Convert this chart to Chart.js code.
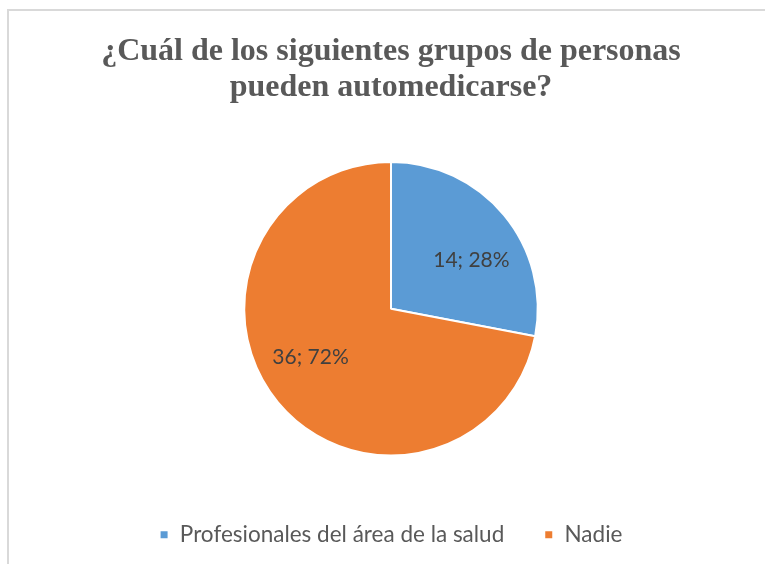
<!DOCTYPE html>
<html>
<head>
<meta charset="utf-8">
<script src="https://cdn.jsdelivr.net/npm/chart.js@4/dist/chart.umd.min.js"></script>
<style>
  html, body { margin: 0; padding: 0; background: #fff; }
  #wrap { position: relative; width: 765px; height: 564px; overflow: hidden; }
  #frame { position: absolute; left: 7px; top: 9px; width: 900px; height: 700px; border: 2px solid #d9d9d9; }
  #pieChart { position: absolute; left: 0; top: 0; }
</style>
</head>
<body>
<div id="wrap">
  <div id="frame"></div>
  <canvas id="pieChart" width="765" height="564"></canvas>
</div>
<script>
const titleLines = ['¿Cuál de los siguientes grupos de personas', 'pueden automedicarse?'];
const categories = ['Profesionales del área de la salud', 'Nadie'];
const counts = [14, 36];
const colors = ['#5B9BD5', '#ED7D31'];

// labels like "14; 28%" drawn inside the slices
const sliceLabels = {
    id: 'sliceLabels',
    afterDatasetsDraw(chart) {
        const ctx = chart.ctx;
        const data = chart.data.datasets[0].data;
        const total = data.reduce((a, b) => a + b, 0);
        const shift = 8.5 * Math.PI / 180;
        ctx.save();
        ctx.font = '21px Lato';
        ctx.fillStyle = '#404040';
        ctx.textAlign = 'center';
        ctx.textBaseline = 'middle';
        chart.getDatasetMeta(0).data.forEach((arc, i) => {
            const p = arc.getProps(['x', 'y', 'startAngle', 'endAngle', 'outerRadius'], true);
            const mid = (p.startAngle + p.endAngle) / 2 + shift;
            const r = p.outerRadius * 0.64;
            const pct = Math.round(data[i] / total * 100);
            ctx.fillText(data[i] + '; ' + pct + '%', p.x + Math.cos(mid) * r, p.y + Math.sin(mid) * r);
        });
        ctx.restore();
    }
};

new Chart(document.getElementById('pieChart').getContext('2d'), {
    type: 'pie',
    data: {
        labels: categories,
        datasets: [{
            data: counts,
            backgroundColor: colors,
            borderColor: '#ffffff',
            borderWidth: 2
        }]
    },
    options: {
        responsive: false,
        animation: false,
        layout: { padding: { left: 17, right: 0, top: 0, bottom: 8 } },
        plugins: {
            title: {
                display: true,
                text: titleLines,
                color: '#595959',
                font: { family: 'Liberation Serif', size: 32, weight: 'bold', lineHeight: 1.125 },
                padding: { top: 34, bottom: 55 }
            },
            legend: {
                position: 'bottom',
                // empty title only used as spacer above the items
                title: { display: true, text: '', padding: 0, font: { size: 10, lineHeight: 2.7 } },
                labels: {
                    color: '#595959',
                    font: { family: 'Lato', size: 22.5 },
                    boxWidth: 9,
                    boxHeight: 9,
                    padding: 40
                }
            },
            tooltip: { enabled: false }
        }
    },
    plugins: [sliceLabels]
});
</script>
</body>
</html>
